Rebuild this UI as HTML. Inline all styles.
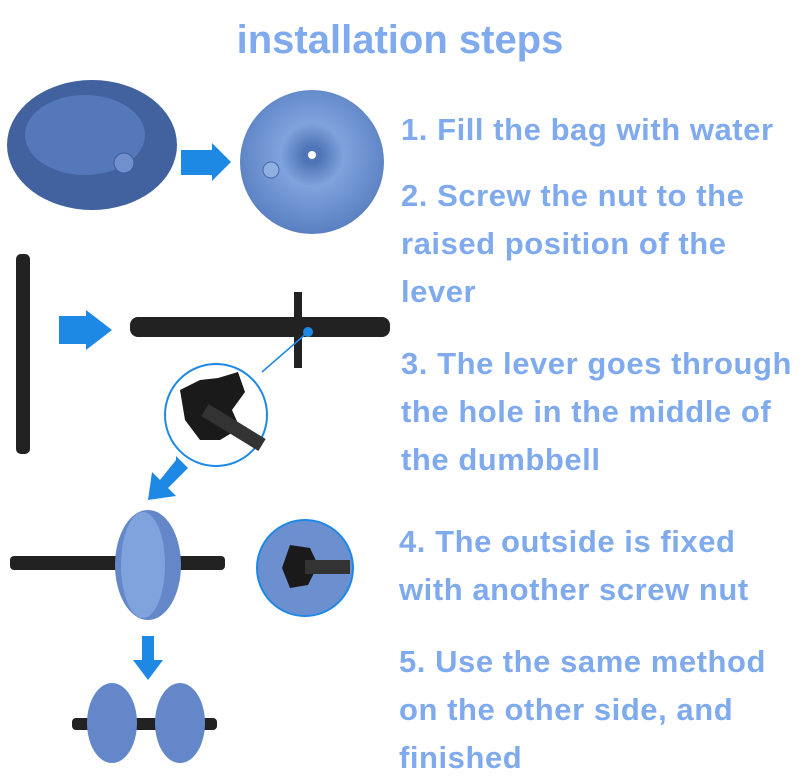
<!DOCTYPE html>
<html><head><meta charset="utf-8"><style>
html,body{margin:0;padding:0;background:#fff;width:800px;height:780px;overflow:hidden}
.t{position:absolute;font-family:"Liberation Sans",sans-serif;color:#80aaee;font-size:31px;font-weight:bold;white-space:nowrap;line-height:36px;letter-spacing:0.55px}
</style></head><body>
<svg width="800" height="780" style="position:absolute;left:0;top:0">
<defs>
<radialGradient id="bag2" cx="50%" cy="45%" r="55%"><stop offset="0" stop-color="#3e64a6"/><stop offset="0.4" stop-color="#7fa3dd"/><stop offset="1" stop-color="#5a80c2"/></radialGradient>
</defs>
<ellipse cx="92" cy="145" rx="85" ry="65" fill="#41629f"/>
<ellipse cx="85" cy="135" rx="60" ry="40" fill="#5c82c4" opacity="0.7"/>
<circle cx="124" cy="163" r="10" fill="#6f90cc" stroke="#3a5a9e"/>
<polygon points="181,150 212,150 212,143 231,162 212,181 212,175 181,175" fill="#1e88e5"/>
<circle cx="312" cy="162" r="72" fill="url(#bag2)"/>
<circle cx="312" cy="155" r="9" fill="#4f75b8"/><circle cx="312" cy="155" r="4" fill="#fff"/>
<circle cx="271" cy="170" r="8" fill="#8fb0e0" stroke="#4a6aa8"/>
<rect x="16" y="254" width="14" height="200" rx="5" fill="#222"/>
<polygon points="59,316 86,316 86,310 112,330 86,350 86,344 59,344" fill="#1e88e5"/>
<rect x="130" y="317" width="260" height="20" rx="8" fill="#222"/>
<rect x="294" y="292" width="8" height="76" fill="#222"/>
<circle cx="308" cy="332" r="5" fill="#1e88e5"/>
<line x1="308" y1="332" x2="262" y2="372" stroke="#1e88e5" stroke-width="1.5"/>
<circle cx="216" cy="415" r="51" fill="#fff" stroke="#1e88e5" stroke-width="2"/>
<polygon points="180,390 200,380 218,378 238,372 245,392 232,410 240,428 220,440 200,440 185,420" fill="#1a1a1a"/>
<line x1="205" y1="410" x2="262" y2="445" stroke="#333" stroke-width="14"/>
<polygon points="176,456 188,468 168,488 176,496 148,500 152,472 160,480 176,460" fill="#1e88e5"/>
<rect x="10" y="556" width="215" height="14" rx="4" fill="#222"/>
<ellipse cx="148" cy="565" rx="33" ry="55" fill="#6387c8"/>
<ellipse cx="143" cy="565" rx="22" ry="53" fill="#7fa3dd"/>
<circle cx="305" cy="568" r="48" fill="#6c90cf" stroke="#1e88e5" stroke-width="2"/>
<polygon points="290,545 310,548 318,565 308,585 290,588 282,568" fill="#1a1a1a"/>
<rect x="305" y="560" width="45" height="14" fill="#333"/>
<polygon points="142,636 154,636 154,660 163,660 148,680 133,660 142,660" fill="#1e88e5"/>
<rect x="72" y="718" width="145" height="12" rx="4" fill="#222"/>
<ellipse cx="112" cy="723" rx="25" ry="40" fill="#6387c8"/>
<ellipse cx="180" cy="723" rx="25" ry="40" fill="#6387c8"/>
</svg>
<div class="t" style="left:0;width:800px;text-align:center;top:18px;font-size:40px;line-height:44px;letter-spacing:0">installation steps</div>
<div class="t" style="left:401px;top:112px">1. Fill the bag with water</div>
<div class="t" style="left:401px;top:178px">2. Screw the nut to the</div>
<div class="t" style="left:401px;top:226px">raised position of the</div>
<div class="t" style="left:401px;top:274px">lever</div>
<div class="t" style="left:401px;top:346px">3. The lever goes through</div>
<div class="t" style="left:401px;top:394px">the hole in the middle of</div>
<div class="t" style="left:401px;top:442px">the dumbbell</div>
<div class="t" style="left:399px;top:524px">4. The outside is fixed</div>
<div class="t" style="left:399px;top:572px">with another screw nut</div>
<div class="t" style="left:399px;top:644px">5. Use the same method</div>
<div class="t" style="left:399px;top:692px">on the other side, and</div>
<div class="t" style="left:399px;top:740px">finished</div>
</body></html>
